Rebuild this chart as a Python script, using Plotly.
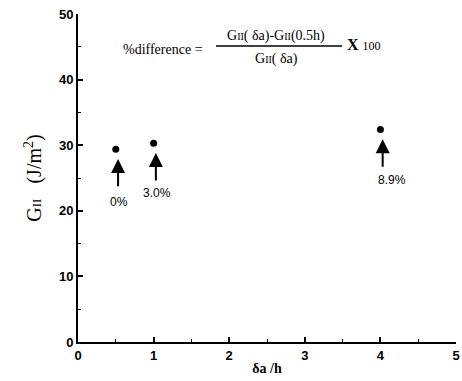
import plotly.graph_objects as go

# Data
da_h = [0.5, 1.0, 4.0]
G_II = [29.4, 30.3, 32.4]
pct_labels = ["0%", "3.0%", "8.9%"]
x_ticks = [0, 1, 2, 3, 4, 5]
y_ticks = [0, 10, 20, 30, 40, 50]

serif = "Liberation Serif"
sans = "Liberation Sans"

fig = go.Figure()
fig.add_trace(go.Scatter(
    x=da_h, y=G_II, mode="markers",
    marker=dict(color="black", size=7, symbol="circle"),
    showlegend=False, hoverinfo="skip",
))

label_dx = [0.04, 0.04, 0.15]
label_dy = [8.1, 7.6, 7.7]
annotations = []
for x, y, lab, dx, dy in zip(da_h, G_II, pct_labels, label_dx, label_dy):
    annotations.append(dict(
        x=x + 0.03, y=y - 1.5, ax=x + 0.03, ay=y - 5.9,
        xref="x", yref="y", axref="x", ayref="y",
        showarrow=True, arrowhead=2, arrowsize=1.4, arrowwidth=2,
        arrowcolor="black", text="",
    ))
    annotations.append(dict(
        x=x + dx, y=y - dy, xref="x", yref="y", text=lab, showarrow=False,
        font=dict(family=sans, size=12, color="black"),
    ))

small = "<span style='font-size:10px'>II</span>"
annotations += [
    dict(x=163, y=50, xref="paper", yref="paper", text="%difference =",
         showarrow=False, font=dict(family=serif, size=14, color="black")),
    dict(x=276, y=36, xref="paper", yref="paper",
         text="G" + small + "( δa)-G" + small + "(0.5h)",
         showarrow=False, font=dict(family=serif, size=14, color="black")),
    dict(x=276, y=59, xref="paper", yref="paper",
         text="G" + small + "( δa)",
         showarrow=False, font=dict(family=serif, size=14, color="black")),
    dict(x=364, y=45, xref="paper", yref="paper",
         text="<b>X</b> <span style='font-size:12px'>100</span>",
         showarrow=False, font=dict(family=serif, size=16, color="black")),
]
# convert pixel positions to paper coords for the formula annotations
L, R, T, B = 78, 6, 14, 39
W, H = 462, 381
for a in annotations:
    if a.get("xref") == "paper":
        a["x"] = (a["x"] - L) / (W - L - R)
        a["y"] = 1 - (a["y"] - T) / (H - T - B)
        a["xanchor"] = "center"
        a["yanchor"] = "middle"

shapes = [dict(type="line", xref="paper", yref="paper",
               x0=(216 - L) / (W - L - R), x1=(342 - L) / (W - L - R),
               y0=1 - (46 - T) / (H - T - B), y1=1 - (46 - T) / (H - T - B),
               line=dict(color="black", width=1.5))]

fig.update_layout(
    width=W, height=H,
    margin=dict(l=L, r=R, t=T, b=B, autoexpand=False),
    paper_bgcolor="white", plot_bgcolor="white",
    annotations=annotations, shapes=shapes,
    xaxis=dict(
        range=[0, 5], tickvals=x_ticks, ticktext=[str(v) for v in x_ticks],
        automargin=False,
        ticks="inside", ticklen=5, tickwidth=1.5, tickcolor="black",
        minor=dict(dtick=0.5, ticks="inside", ticklen=3, tickwidth=1, tickcolor="black"),
        showline=True, linecolor="black", linewidth=2, showgrid=False, zeroline=False,
        tickfont=dict(family=sans, size=13, color="black", weight="bold"),
        title=dict(text="<b>δa /h</b>", font=dict(family=serif, size=14, color="black"), standoff=2),
    ),
    yaxis=dict(
        range=[0, 50], tickvals=y_ticks, ticktext=[str(v) for v in y_ticks],
        automargin=False,
        ticks="inside", ticklen=5, tickwidth=1.5, tickcolor="black",
        minor=dict(dtick=5, ticks="inside", ticklen=3, tickwidth=1, tickcolor="black"),
        showline=True, linecolor="black", linewidth=2, showgrid=False, zeroline=False,
        tickfont=dict(family=sans, size=13, color="black", weight="bold"),
        title=dict(text="G<span style='font-size:13px'>II</span>   (J/m<sup>2</sup>)",
                   font=dict(family=serif, size=20, color="black"), standoff=12),
    ),
)

fig.write_html("out.html", config={"displayModeBar": False},
               post_script="document.body.style.margin='0';")
